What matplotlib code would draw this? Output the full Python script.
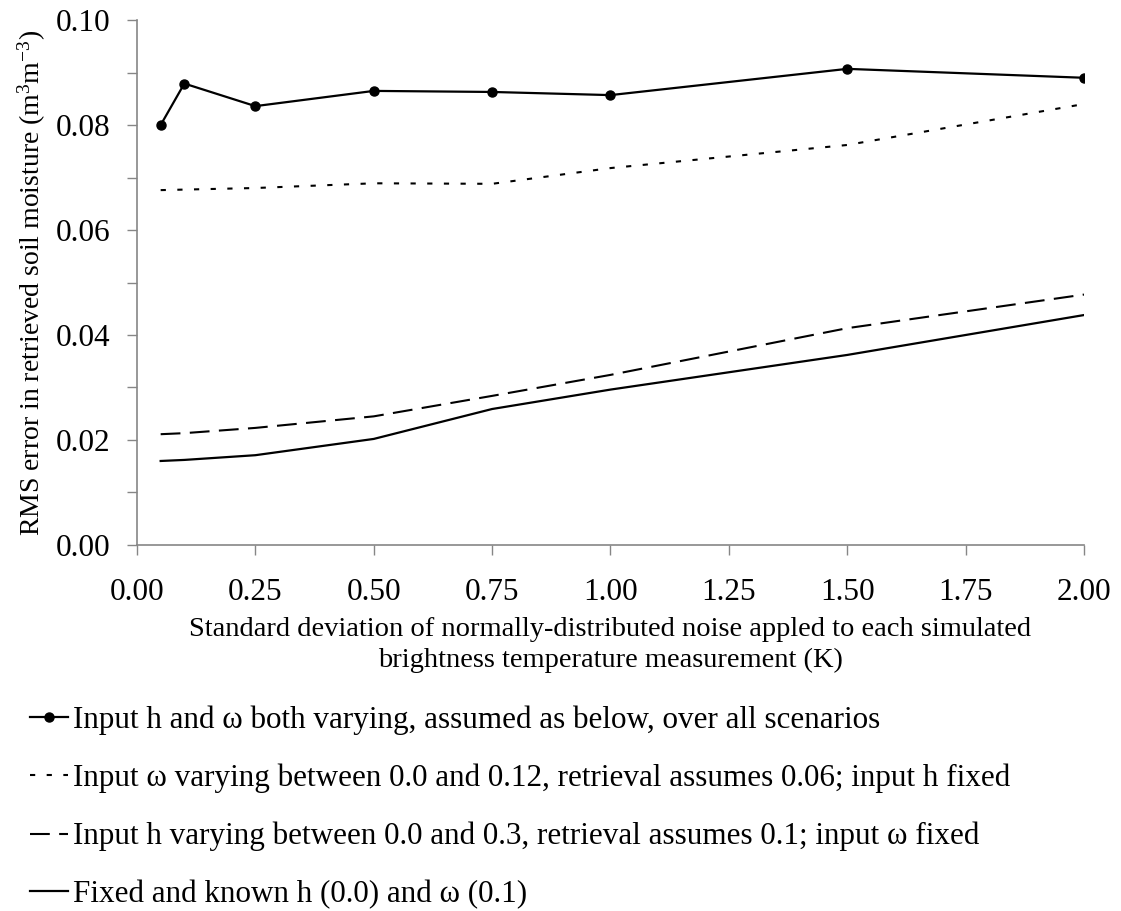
import matplotlib
matplotlib.use('Agg')
import matplotlib.pyplot as plt
from matplotlib.ticker import MultipleLocator, FormatStrFormatter

plt.rcParams['font.family'] = ['Liberation Serif', 'DejaVu Serif']
plt.rcParams['mathtext.fontset'] = 'custom'
plt.rcParams['mathtext.rm'] = 'Liberation Serif'
plt.rcParams['mathtext.it'] = 'Liberation Serif:italic'

# Dados
noise_sd = [0.05, 0.10, 0.25, 0.50, 0.75, 1.00, 1.50, 2.00]
both_varying = [0.0800, 0.0879, 0.0836, 0.0865, 0.0863, 0.0857, 0.0907, 0.0890]
omega_varying = [0.0676, 0.0677, 0.0680, 0.0689, 0.0688, 0.0718, 0.0762, 0.0840]
h_varying = [0.0211, 0.0213, 0.0223, 0.0245, 0.0284, 0.0324, 0.0413, 0.0477]
fixed_known = [0.0160, 0.0162, 0.0171, 0.0202, 0.0259, 0.0296, 0.0362, 0.0438]

labels = [
    'Input h and \u03c9 both varying, assumed as below, over all scenarios',
    'Input \u03c9 varying between 0.0 and 0.12, retrieval assumes 0.06; input h fixed',
    'Input h varying between 0.0 and 0.3, retrieval assumes 0.1; input \u03c9 fixed',
    'Fixed and known h (0.0) and \u03c9 (0.1)',
]

fig = plt.figure(figsize=(11.21, 9.11), dpi=100)
ax = fig.add_axes([0.1222, 0.4018, 0.8448, 0.5762])

ax.plot(noise_sd, both_varying, color='black', lw=1.6, marker='o', ms=6.5, label=labels[0])
ax.plot(noise_sd, omega_varying, color='black', lw=1.5, linestyle=(0, (2.5, 5.5)), label=labels[1])
ax.plot(noise_sd, h_varying, color='black', lw=1.5, linestyle=(0, (9.5, 4.5)), label=labels[2])
ax.plot(noise_sd, fixed_known, color='black', lw=1.6, label=labels[3])

ax.set_xlim(0, 2.0)
ax.set_ylim(0, 0.10)
ax.xaxis.set_major_locator(MultipleLocator(0.25))
ax.yaxis.set_major_locator(MultipleLocator(0.02))
ax.yaxis.set_minor_locator(MultipleLocator(0.01))
ax.xaxis.set_major_formatter(FormatStrFormatter('%.2f'))
ax.yaxis.set_major_formatter(FormatStrFormatter('%.2f'))

for side in ['top', 'right']:
    ax.spines[side].set_visible(False)
for side in ['left', 'bottom']:
    ax.spines[side].set_color('#868686')
    ax.spines[side].set_linewidth(1.2)
ax.tick_params(which='both', direction='out', length=7, width=1.0, color='#868686', labelsize=22.5)
ax.tick_params(axis='x', pad=17)
ax.tick_params(axis='y', pad=12)

ax.set_xlabel('Standard deviation of normally-distributed noise appled to each simulated\n'
              'brightness temperature measurement (K)', fontsize=20.5, labelpad=7, linespacing=1.32)
ax.set_ylabel('RMS error in retrieved soil moisture (m$^{3}$m$^{-3}$)', fontsize=20, labelpad=6)

fig.legend(loc='upper left', bbox_to_anchor=(0.016, 0.239), frameon=False, fontsize=22.4,
           handlelength=1.22, handletextpad=0.16, labelspacing=0.92, borderaxespad=0)

fig.savefig('out.png', dpi=100)
